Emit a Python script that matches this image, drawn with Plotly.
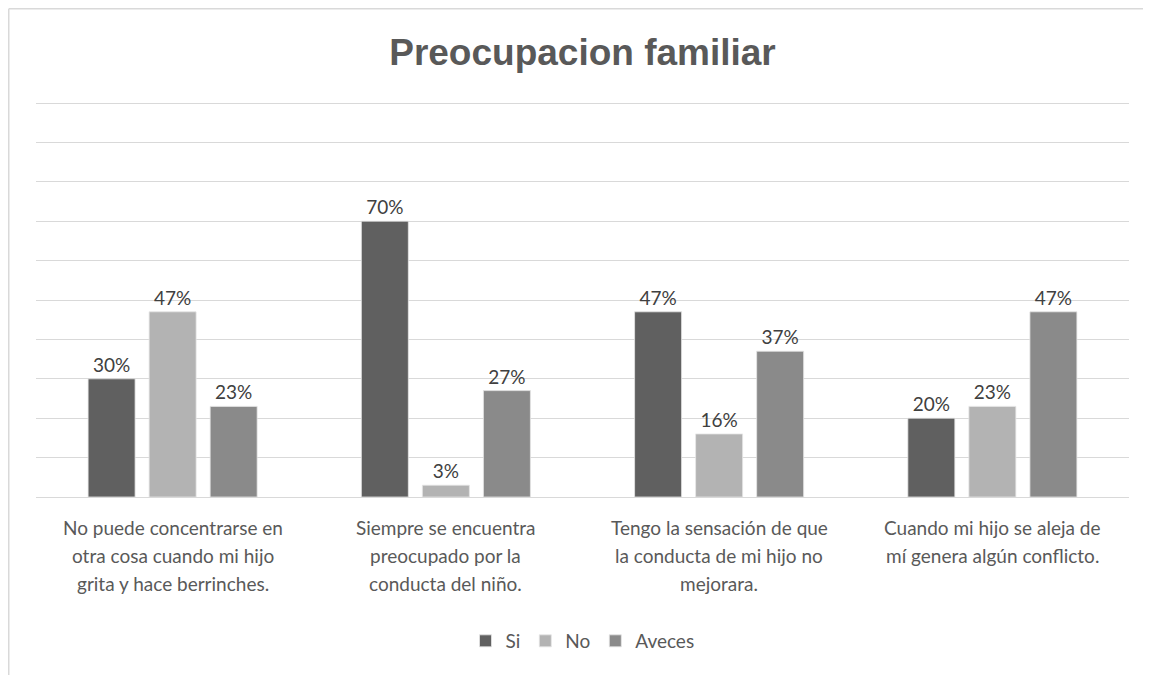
import plotly.graph_objects as go

categories = [
    "No puede concentrarse en<br>otra cosa cuando mi hijo<br>grita y hace berrinches.",
    "Siempre se encuentra<br>preocupado por la<br>conducta del niño.",
    "Tengo la sensación de que<br>la conducta de mi hijo no<br>mejorara.",
    "Cuando mi hijo se aleja de<br>mí genera algún conflicto.",
]
series_names = ["Si", "No", "Aveces"]
si_values = [0.30, 0.70, 0.47, 0.20]
no_values = [0.47, 0.03, 0.16, 0.23]
aveces_values = [0.23, 0.27, 0.37, 0.47]
colors = ["#606060", "#b3b3b3", "#8a8a8a"]

FONT = "Lato"
fig = go.Figure()
for name, vals, col in zip(series_names, [si_values, no_values, aveces_values], colors):
    fig.add_trace(go.Bar(
        x=categories, y=vals, name=name,
        marker=dict(color=col, line=dict(color="#e6e6e6", width=0.8)),
        text=[f"{round(v*100)}%" for v in vals],
        textposition="outside", cliponaxis=False,
        textfont=dict(family=FONT, size=19, color="#404040"),
    ))

# category labels: one annotation per line for Excel-like line spacing
annotations = []
for cat in categories:
    for i, line in enumerate(cat.split("<br>")):
        annotations.append(dict(
            x=cat, xref="x", y=0, yref="paper", text=line, showarrow=False,
            xanchor="center", yanchor="middle", yshift=-(30 + 28 * i),
            font=dict(family=FONT, size=19, color="#595959"),
        ))

# page has an 8px body margin; compensate so the plot area lands where the reference has it
OFF = 8
EXTRA = 4  # extra headroom so the 100% gridline is drawn inside the plot area
W, H = 1151 - OFF, 675 - OFF
L, R, T, B = 36 - OFF, 22, 103 - OFF - EXTRA, 178
pw, ph = W - L - R, H - T - B
ymax = 1 + EXTRA / (ph - EXTRA)

def px_x(p):
    return (p - L) / pw

def px_y(p):
    return (H - B - p) / ph

fig.update_layout(
    width=W, height=H,
    margin=dict(l=L, r=R, t=T, b=B, autoexpand=False),
    paper_bgcolor="white", plot_bgcolor="white",
    barmode="group", bargap=0.33, bargroupgap=0.23,
    title=dict(text="<b>Preocupacion familiar</b>", x=0.5, xref="paper",
               y=1 - (52 - OFF) / H, yanchor="middle", xanchor="center",
               font=dict(family="Liberation Sans", size=37, color="#595959")),
    xaxis=dict(showline=False, ticks="", automargin=False, showticklabels=False,
               showgrid=False),
    yaxis=dict(range=[0, ymax], tick0=0, dtick=0.1, showticklabels=False, showgrid=True,
               gridcolor="#d9d9d9", gridwidth=1.2, zeroline=True, zerolinecolor="#d9d9d9",
               zerolinewidth=1.2, ticks="", automargin=False),
    legend=dict(orientation="h", x=0.5, xanchor="center", y=-(633 - (H - B)) / ph, yanchor="middle",
                font=dict(family=FONT, size=19, color="#595959"), traceorder="normal",
                itemwidth=30),
    showlegend=True,
    annotations=annotations,
    shapes=[
        dict(type="line", xref="paper", yref="paper", x0=px_x(0.75), x1=px_x(W),
             y0=px_y(0.75), y1=px_y(0.75), line=dict(color="#d9d9d9", width=1.5)),
        dict(type="line", xref="paper", yref="paper", x0=px_x(0.75), x1=px_x(0.75),
             y0=px_y(0.75), y1=px_y(H), line=dict(color="#d9d9d9", width=1.5)),
    ],
)
fig.write_html("out.html")
